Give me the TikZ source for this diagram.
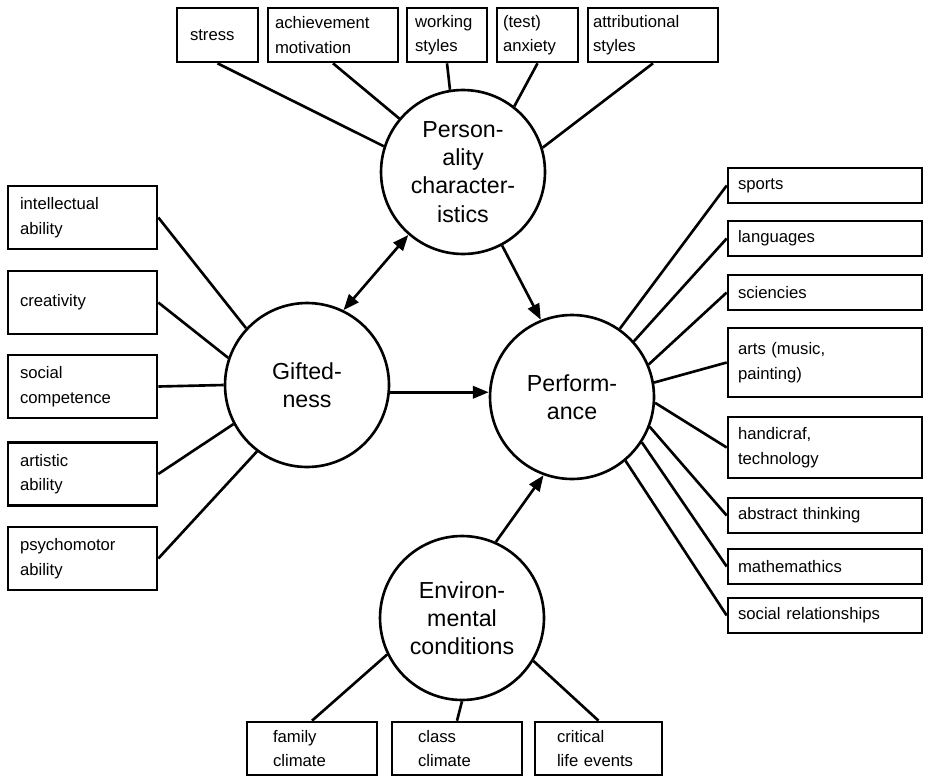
\documentclass[tikz,border=0pt]{standalone}
\usepackage{fontspec}
\setmainfont{Liberation Sans}
\usetikzlibrary{arrows.meta}

\begin{document}
\begin{tikzpicture}[x=0.02cm, y=-0.02cm, line width=1.5pt]
			\tikzset{>={Triangle[length=9pt, width=7pt]}}
			\tikzset{
				factor/.style={draw, circle, minimum size=3.28cm, inner sep=0pt, align=center, font=\fontsize{13.2}{16}\selectfont},
				item/.style={draw, rectangle, inner sep=0pt, align=left, font=\fontsize{9.5}{14}\selectfont},
				trait/.style={item, minimum height=1.08cm},
				ability/.style={item, minimum height=1.26cm, minimum width=2.98cm, text width=2.5cm},
				subject/.style={item, minimum height=0.7cm, minimum width=3.88cm, text width=3.48cm},
				milieu/.style={item, minimum height=1.06cm}
			}
			\useasboundingbox (0, 0) rectangle (928, 777);

			\node[factor] (gifted) at (307, 385) {Gifted-\\ness};
			\node[factor] (perform) at (572, 397) {Perform-\\ance};
			\node[factor] (person) at (463, 172) {Person-\\ality\\character-\\istics};
			\node[factor] (environ) at (462, 618) {Environ-\\mental\\conditions};

			\node[trait, minimum width=1.62cm, text width=1.1cm] (stress) at (217.5, 35) {stress};
			\node[trait, minimum width=2.6cm, text width=2.32cm] (achieve) at (333, 35) {achievement\\motivation};
			\node[trait, minimum width=1.6cm, text width=1.28cm] (working) at (447, 35) {working\\styles};
			\node[trait, minimum width=1.62cm, text width=1.38cm] (anxiety) at (537.5, 35) {(test)\\anxiety};
			\node[trait, minimum width=2.6cm, text width=2.4cm] (attrib) at (653, 35) {attributional\\styles};

			\node[ability] (intellect) at (82.5, 217.5) {intellectual\\ability};
			\node[ability] (creative) at (82.5, 302.5) {creativity};
			\node[ability] (social) at (82.5, 386.5) {social\\competence};
			\node[ability] (artistic) at (82.5, 474) {artistic\\ability};
			\node[ability] (psycho) at (82.5, 558.5) {psychomotor\\ability};

			\node[subject] (sports) at (825, 185.5) {sports};
			\node[subject] (lang) at (825, 238.5) {languages};
			\node[subject] (science) at (825, 292.5) {sciencies};
			\node[subject, minimum height=1.38cm] (arts) at (825, 362.5) {arts (music,\\painting)};
			\node[subject, minimum height=1.22cm] (craft) at (825, 447.5) {handicraf,\\technology};
			\node[subject] (abstract) at (825, 515.5) {abstract thinking};
			\node[subject] (math) at (825, 566.5) {mathemathics};
			\node[subject] (relation) at (825, 615.5) {social relationships};

			\node[milieu, minimum width=2.6cm, text width=1.56cm] (family) at (312, 748.5) {family\\climate};
			\node[milieu, minimum width=2.6cm, text width=1.56cm] (class) at (457, 748.5) {class\\climate};
			\node[milieu, minimum width=2.54cm, text width=1.66cm] (critical) at (598.5, 748.5) {critical\\life events};

			\draw (stress.south) -- (person.162);
			\draw (achieve.south) -- (person.140);
			\draw (working.south) -- (person.99);
			\draw (anxiety.south) -- (person.52);
			\draw (attrib.south) -- (person.17);

			\draw (intellect.east) -- (gifted.137);
			\draw (creative.east) -- (gifted.161);
			\draw (social.east) -- (gifted.180);
			\draw (artistic.east) -- (gifted.208);
			\draw (psycho.east) -- (gifted.233);

			\draw (sports.west) -- (perform.55);
			\draw (lang.west) -- (perform.42);
			\draw (science.west) -- (perform.23);
			\draw (arts.west) -- (perform.10);
			\draw (craft.west) -- (perform.-4);
			\draw (abstract.west) -- (perform.-21);
			\draw (math.west) -- (perform.-33);
			\draw (relation.west) -- (perform.-50);

			\draw (family.north) -- (environ.206);
			\draw (class.north) -- (environ.270);
			\draw (critical.north) -- (environ.329);

			\draw[<->] (gifted.64) -- (person.229);
			\draw[->] (person.298) -- (perform.112);
			\draw[->] (gifted.-5) -- (gifted.-5 -| perform.west);
			\draw[->] (environ.66) -- (perform.250);
		\end{tikzpicture}
\end{document}
